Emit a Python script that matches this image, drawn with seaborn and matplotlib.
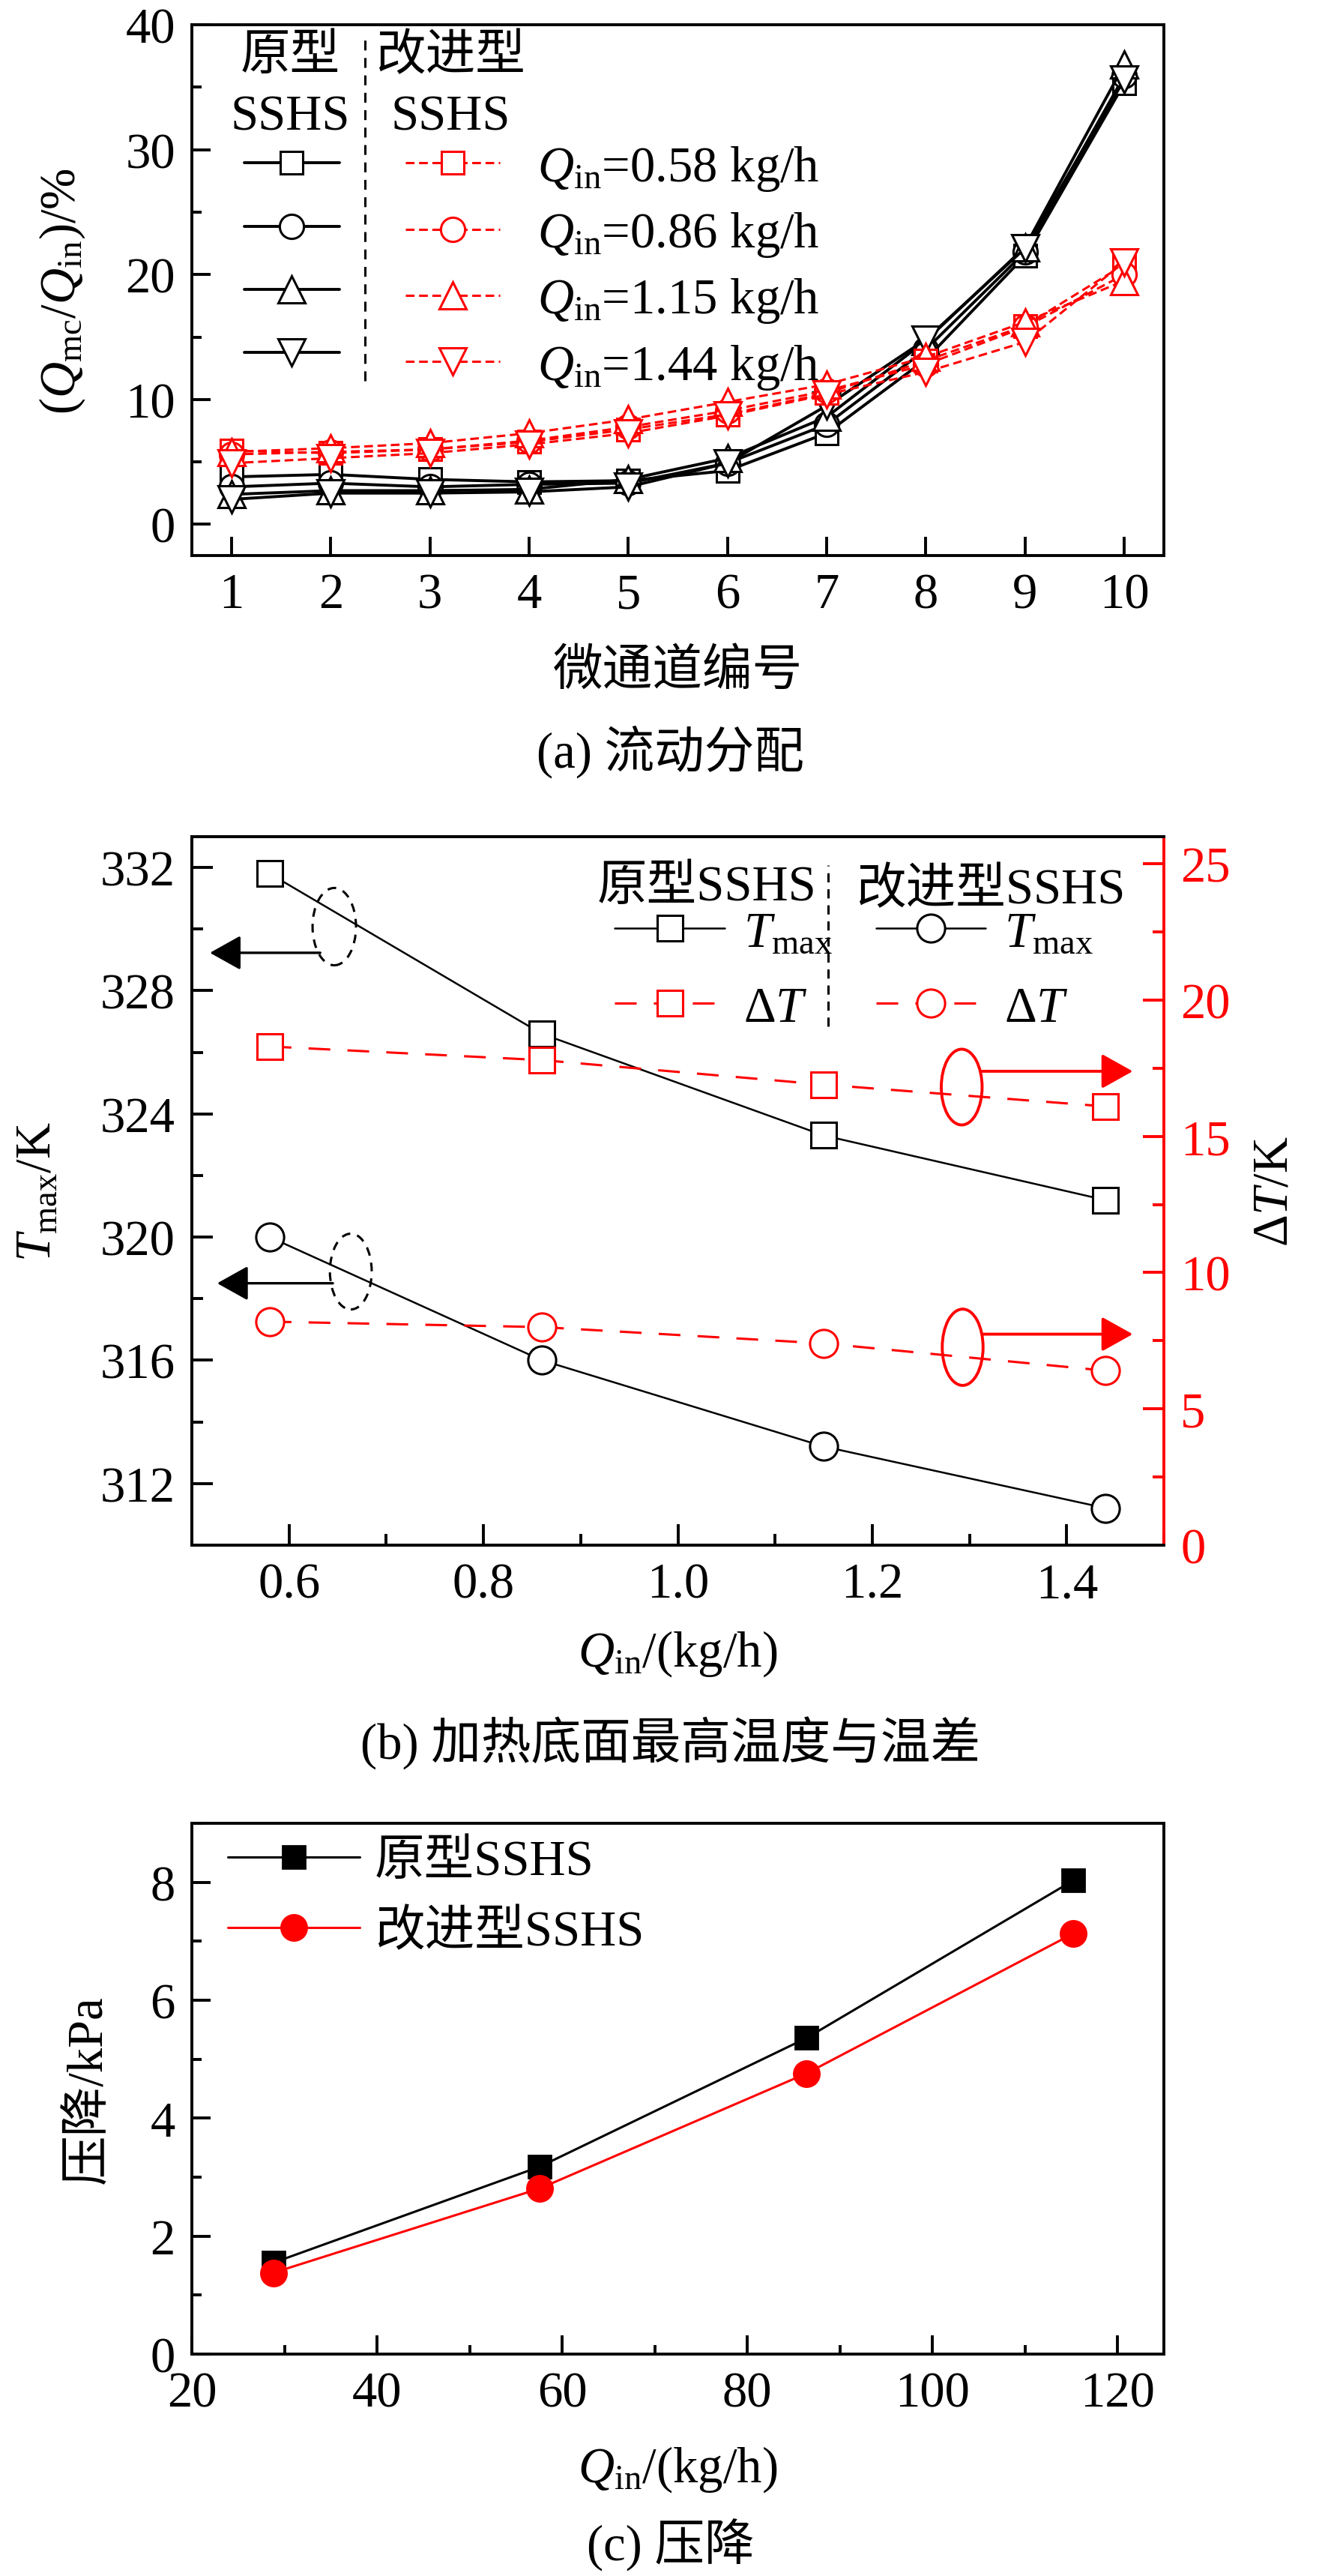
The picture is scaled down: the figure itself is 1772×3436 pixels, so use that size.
import matplotlib
matplotlib.use('Agg')
import seaborn as sns
import matplotlib.pyplot as plt
from matplotlib.lines import Line2D
from matplotlib.patches import Ellipse
from matplotlib.ticker import MultipleLocator, FormatStrFormatter

# ---- (a) flow distribution: share of inlet flow per micro-channel (%) ----
channels = [1, 2, 3, 4, 5, 6, 7, 8, 9, 10]
qin_labels = ['0.58', '0.86', '1.15', '1.44']
orig_q058 = [3.8, 4.0, 3.6, 3.4, 3.5, 4.3, 7.3, 13.2, 21.5, 35.3]
orig_q086 = [3.0, 3.3, 3.0, 3.2, 3.3, 4.9, 8.0, 14.0, 21.8, 35.9]
orig_q115 = [2.4, 2.7, 2.7, 2.8, 3.6, 5.3, 8.6, 14.7, 22.2, 36.8]
orig_q144 = [2.0, 2.5, 2.5, 2.6, 3.0, 4.9, 9.5, 14.8, 22.1, 35.6]
impr_q058 = [5.9, 5.7, 6.0, 6.6, 7.6, 8.8, 10.5, 13.1, 15.9, 20.8]
impr_q086 = [5.6, 5.8, 6.0, 6.7, 7.8, 9.1, 10.7, 12.8, 15.8, 20.0]
impr_q115 = [5.8, 6.1, 6.5, 7.3, 8.4, 9.8, 11.2, 13.4, 16.2, 19.5]
impr_q144 = [4.9, 5.3, 5.7, 6.4, 7.3, 8.7, 10.4, 12.2, 14.6, 21.0]

# ---- (b) max temperature and temperature difference ----
flow_b = [0.58, 0.86, 1.15, 1.44]
tmax_orig = [331.8, 326.6, 323.3, 321.2]
tmax_impr = [320.0, 316.0, 313.2, 311.2]
dt_orig = [18.3, 17.8, 16.9, 16.1]
dt_impr = [8.2, 8.0, 7.4, 6.4]

# ---- (c) pressure drop ----
flow_c = [28.8, 57.6, 86.4, 115.2]
dp_orig = [1.55, 3.18, 5.36, 8.03]
dp_impr = [1.38, 2.81, 4.76, 7.13]

sns.set_theme(style='ticks', rc={'axes.edgecolor': 'black', 'text.color': 'black',
                                 'axes.labelcolor': 'black', 'xtick.color': 'black',
                                 'ytick.color': 'black'})
plt.rcParams['font.family'] = ['Liberation Serif', 'Noto Sans CJK SC']
plt.rcParams['mathtext.fontset'] = 'custom'
plt.rcParams['mathtext.rm'] = 'Liberation Serif'
plt.rcParams['mathtext.it'] = 'Liberation Serif:italic'
plt.rcParams['axes.unicode_minus'] = False
FS = 24

fig = plt.figure(figsize=(8.86, 17.185), dpi=200)


def style_axes(ax, major_len, minor_len):
    for sp in ax.spines.values():
        sp.set_linewidth(1.4)
        sp.set_color('black')
    ax.tick_params(which='major', direction='in', length=major_len, width=1.4,
                   labelsize=FS, pad=8, top=False, right=False)
    ax.tick_params(which='minor', direction='in', length=minor_len, width=1.4,
                   top=False, right=False)


# ================= (a) =================
ax_a = fig.add_axes([0.1445, 0.7841, 0.7319, 0.2060])
markers = ['s', 'o', '^', 'v']
msizes = [10.6, 11.6, 13, 13]
black_h, red_h = [], []
for vals, m, ms in zip([orig_q058, orig_q086, orig_q115, orig_q144], markers, msizes):
    sns.lineplot(x=channels, y=vals, ax=ax_a, color='black', lw=1.4, marker=m,
                 markersize=ms, markerfacecolor='white', markeredgecolor='black',
                 markeredgewidth=1.1)
    black_h.append(ax_a.lines[-1])
for vals, m, ms in zip([impr_q058, impr_q086, impr_q115, impr_q144], markers, msizes):
    sns.lineplot(x=channels, y=vals, ax=ax_a, color='red', lw=1.1,
                 linestyle=(0, (3.8, 2.0)), marker=m, markersize=ms,
                 markerfacecolor='white', markeredgecolor='red', markeredgewidth=1.1)
    red_h.append(ax_a.lines[-1])

ax_a.set_xlim(0.6, 10.4)
ax_a.set_ylim(-2.5, 40)
ax_a.xaxis.set_major_locator(MultipleLocator(1))
ax_a.yaxis.set_major_locator(MultipleLocator(10))
ax_a.yaxis.set_minor_locator(MultipleLocator(5))
style_axes(ax_a, 9, 4.5)

labels_a = [r'$Q_{\rm in}$=' + q + ' kg/h' for q in qin_labels]
ax_a.legend(black_h + red_h, [''] * 4 + labels_a, ncol=2, loc='upper left',
            bbox_to_anchor=(0.054, 0.776), frameon=False, fontsize=FS,
            handlelength=1.9, handletextpad=0.75, columnspacing=0.57,
            labelspacing=0.35, borderpad=0, borderaxespad=0)
ax_a.text(0.101, 0.94, '原型', transform=ax_a.transAxes, ha='center', va='center', fontsize=FS)
ax_a.text(0.101, 0.826, 'SSHS', transform=ax_a.transAxes, ha='center', va='center', fontsize=FS)
ax_a.text(0.266, 0.94, '改进型', transform=ax_a.transAxes, ha='center', va='center', fontsize=FS)
ax_a.text(0.266, 0.826, 'SSHS', transform=ax_a.transAxes, ha='center', va='center', fontsize=FS)
ax_a.add_line(Line2D([0.1777, 0.1777], [0.329, 0.972], transform=ax_a.transAxes,
                     color='black', lw=1.1, ls=(0, (4.3, 3.3))))

ax_a.set_xlabel('微通道编号', fontsize=FS)
ax_a.xaxis.label.set_va('center')
ax_a.xaxis.set_label_coords(0.5, -0.219)
ax_a.set_ylabel(r'$(Q_{\rm mc}/Q_{\rm in})$/%', fontsize=FS)
ax_a.yaxis.label.set_va('center')
ax_a.yaxis.set_label_coords(-0.1334, 0.5)
fig.text(0.505, 0.7082, '(a) 流动分配', ha='center', va='center', fontsize=FS)

# ================= (b) =================
ax_b = fig.add_axes([0.1445, 0.4001, 0.7319, 0.2749])
ax_b2 = ax_b.twinx()
sns.lineplot(x=flow_b, y=tmax_orig, ax=ax_b, color='black', lw=0.9, marker='s',
             markersize=12.1, markerfacecolor='white', markeredgecolor='black',
             markeredgewidth=1.1)
h_sq_t = ax_b.lines[-1]
sns.lineplot(x=flow_b, y=tmax_impr, ax=ax_b, color='black', lw=0.9, marker='o',
             markersize=13.4, markerfacecolor='white', markeredgecolor='black',
             markeredgewidth=1.1)
h_ci_t = ax_b.lines[-1]
sns.lineplot(x=flow_b, y=dt_orig, ax=ax_b2, color='red', lw=1.1,
             linestyle=(0, (9.5, 7.5)), marker='s', markersize=12.1,
             markerfacecolor='white', markeredgecolor='red', markeredgewidth=1.1)
h_sq_d = ax_b2.lines[-1]
sns.lineplot(x=flow_b, y=dt_impr, ax=ax_b2, color='red', lw=1.1,
             linestyle=(0, (9.5, 7.5)), marker='o', markersize=13.4,
             markerfacecolor='white', markeredgecolor='red', markeredgewidth=1.1)
h_ci_d = ax_b2.lines[-1]

ax_b.set_xlim(0.5, 1.5)
ax_b.set_ylim(310, 333)
ax_b2.set_ylim(0, 26)
ax_b.xaxis.set_major_locator(MultipleLocator(0.2))
ax_b.xaxis.set_minor_locator(MultipleLocator(0.1))
ax_b.xaxis.set_major_formatter(FormatStrFormatter('%.1f'))
ax_b.yaxis.set_major_locator(MultipleLocator(4))
ax_b.yaxis.set_minor_locator(MultipleLocator(2))
ax_b2.yaxis.set_major_locator(MultipleLocator(5))
ax_b2.yaxis.set_minor_locator(MultipleLocator(2.5))
style_axes(ax_b, 10, 5.5)
ax_b.spines['right'].set_visible(False)
for sp in ax_b2.spines.values():
    sp.set_linewidth(1.4)
ax_b2.spines['right'].set_color('red')
ax_b2.tick_params(axis='y', which='major', direction='in', length=10, width=1.4,
                  labelsize=FS, pad=8, colors='red', left=False, right=True)
ax_b2.tick_params(axis='y', which='minor', direction='in', length=5.5, width=1.4,
                  colors='red', left=False, right=True)

# dashed ellipses + arrows pointing at the matching axis
ax_b.add_patch(Ellipse((0.6465, 330.08), 0.0447, 2.51, fill=False, ec='black',
                       lw=1.1, ls=(0, (3.8, 3.1)), zorder=5))
ax_b.add_patch(Ellipse((0.6635, 318.88), 0.043, 2.46, fill=False, ec='black',
                       lw=1.1, ls=(0, (3.8, 3.1)), zorder=5))
arrow_k = dict(arrowstyle='-|>,head_length=0.43,head_width=0.24', mutation_scale=30,
               color='black', lw=1.2, shrinkA=0, shrinkB=0)
ax_b.annotate('', xy=(0.5185, 329.23), xytext=(0.632, 329.23), arrowprops=arrow_k)
ax_b.annotate('', xy=(0.526, 318.5), xytext=(0.645, 318.5), arrowprops=arrow_k)
ax_b2.add_patch(Ellipse((1.292, 16.81), 0.042, 2.78, fill=False, ec='red', lw=1.4, zorder=5))
ax_b2.add_patch(Ellipse((1.293, 7.26), 0.042, 2.8, fill=False, ec='red', lw=1.4, zorder=5))
arrow_r = dict(arrowstyle='-|>,head_length=0.43,head_width=0.24', mutation_scale=30,
               color='red', lw=1.4, shrinkA=0, shrinkB=0)
ax_b2.annotate('', xy=(1.468, 17.39), xytext=(1.313, 17.39), arrowprops=arrow_r)
ax_b2.annotate('', xy=(1.468, 7.74), xytext=(1.313, 7.74), arrowprops=arrow_r)

ax_b2.legend([h_sq_t, h_sq_d, h_ci_t, h_ci_d],
             [r'$T_{\rm max}$', r'Δ$T$', r'$T_{\rm max}$', r'Δ$T$'], ncol=2,
             loc='upper left', bbox_to_anchor=(0.435, 0.896), frameon=False,
             fontsize=FS, handlelength=2.2, handletextpad=0.375, columnspacing=0.87,
             labelspacing=0.59, borderpad=0, borderaxespad=0)
ax_b2.text(0.530, 0.929, '原型SSHS', transform=ax_b2.transAxes, ha='center', va='center', fontsize=FS)
ax_b2.text(0.822, 0.925, '改进型SSHS', transform=ax_b2.transAxes, ha='center', va='center', fontsize=FS)
ax_b2.add_line(Line2D([0.6546, 0.6546], [0.732, 0.960], transform=ax_b2.transAxes,
                      color='black', lw=1.1, ls=(0, (4.0, 3.0))))

ax_b.set_xlabel(r'$Q_{\rm in}$/(kg/h)', fontsize=FS)
ax_b.xaxis.label.set_va('center')
ax_b.xaxis.set_label_coords(0.5, -0.153)
ax_b.set_ylabel(r'$T_{\rm max}$/K', fontsize=FS)
ax_b.yaxis.label.set_va('center')
ax_b.yaxis.set_label_coords(-0.159, 0.5)
ax_b2.set_ylabel(r'Δ$T$/K', fontsize=FS, color='black')
ax_b2.yaxis.label.set_va('center')
ax_b2.yaxis.label.set_rotation(90)
ax_b2.yaxis.set_label_coords(1.114, 0.5)
fig.text(0.505, 0.3235, '(b) 加热底面最高温度与温差', ha='center', va='center', fontsize=FS)

# ================= (c) =================
ax_c = fig.add_axes([0.1445, 0.0861, 0.7319, 0.2060])
sns.lineplot(x=flow_c, y=dp_orig, ax=ax_c, color='black', lw=1.1, marker='s',
             markersize=10.6, markerfacecolor='black', markeredgecolor='black',
             markeredgewidth=1.0, label='原型SSHS')
sns.lineplot(x=flow_c, y=dp_impr, ax=ax_c, color='red', lw=1.1, marker='o',
             markersize=12.3, markerfacecolor='red', markeredgecolor='red',
             markeredgewidth=1.0, label='改进型SSHS')
ax_c.set_xlim(20, 125)
ax_c.set_ylim(0, 9)
ax_c.xaxis.set_major_locator(MultipleLocator(20))
ax_c.xaxis.set_minor_locator(MultipleLocator(10))
ax_c.yaxis.set_major_locator(MultipleLocator(2))
ax_c.yaxis.set_minor_locator(MultipleLocator(1))
style_axes(ax_c, 9, 4.5)
ax_c.legend(loc='upper left', bbox_to_anchor=(0.037, 0.97), frameon=False, fontsize=FS,
            handlelength=2.64, handletextpad=0.3, labelspacing=0.485,
            borderpad=0, borderaxespad=0)
ax_c.set_xlabel(r'$Q_{\rm in}$/(kg/h)', fontsize=FS)
ax_c.xaxis.label.set_va('center')
ax_c.xaxis.set_label_coords(0.5, -0.216)
ax_c.set_ylabel('压降/kPa', fontsize=FS)
ax_c.yaxis.label.set_va('center')
ax_c.yaxis.set_label_coords(-0.106, 0.5)
fig.text(0.505, 0.0122, '(c) 压降', ha='center', va='center', fontsize=FS)

fig.savefig('out.png', dpi=200)
